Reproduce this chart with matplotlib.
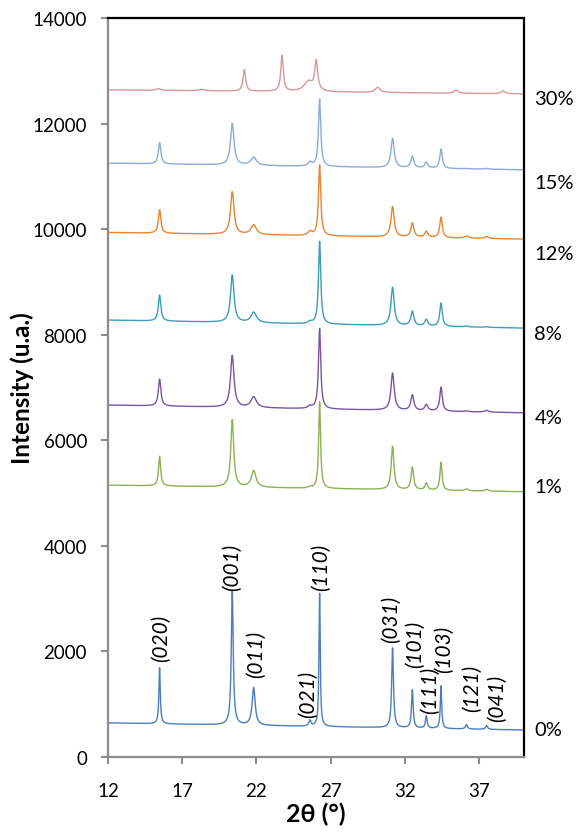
import numpy as np
import matplotlib
matplotlib.use("Agg")
import matplotlib.pyplot as plt
import matplotlib.transforms as mtransforms

plt.rcParams['font.family'] = ['Lato', 'DejaVu Sans']

# peak positions (2theta) of the main phase, shared by 0-15 %
PEAK_POS = [15.48, 20.37, 21.81, 25.6, 26.25, 31.16, 32.49, 33.43, 34.42, 36.13, 37.49]
PEAK_HWHM = [0.10, 0.14, 0.22, 0.15, 0.09, 0.13, 0.12, 0.12, 0.10, 0.15, 0.15]

# apex intensities for every sample
TOP_0 = [1690, 3150, 1310, 690, 3100, 2065, 1270, 775, 1345, 612, 593]
TOP_1 = [5695, 6383, 5422, 5110, 6730, 5884, 5487, 5184, 5581, 5076, 5070]
TOP_4 = [7160, 7605, 6818, 6640, 8115, 7273, 6856, 6672, 7002, 6553, 6565]
TOP_8 = [8750, 9129, 8422, 8240, 9767, 8895, 8441, 8282, 8598, 8163, 8150]
TOP_12 = [10366, 10707, 10076, 9950, 11212, 10429, 10114, 9956, 10227, 9867, 9860]
TOP_15 = [11642, 12001, 11358, 11265, 12462, 11717, 11377, 11263, 11515, 11150, 11150]

# 30 % shows another set of reflections
POS_30 = [15.4, 18.3, 21.18, 23.72, 25.5, 26.02, 30.16, 35.43, 38.6]
HWHM_30 = [0.2, 0.2, 0.1, 0.1, 0.35, 0.12, 0.2, 0.15, 0.15]
TOP_30 = [12660, 12650, 13020, 13282, 12790, 13153, 12684, 12638, 12620]

# background at 12 and 40 degrees
BASE_START = [645, 5150, 6667, 8277, 9937, 11250, 12638]
BASE_END = [511, 5025, 6520, 8125, 9811, 11124, 12562]
WIDTH_SCALE = [0.55, 0.85, 1.0, 1.0, 1.0, 1.0, 1.0]

SAMPLES = ['0%', '1%', '4%', '8%', '12%', '15%', '30%']
COLORS = ['#4a7ebb', '#8db054', '#7457a3', '#3c9db8', '#e8842f', '#8eaad9', '#d69797']
LABEL_Y = [530, 5130, 6440, 8030, 9545, 10890, 12480]

HKL = ['(020)', '(001)', '(011)', '(021)', '(110)', '(031)', '(101)', '(111)', '(103)', '(121)', '(041)']
HKL_X = [15.6, 20.32, 22.0, 25.5, 26.36, 31.07, 32.64, 33.7, 34.6, 36.5, 38.2]
HKL_Y = [1820, 3170, 1520, 760, 3160, 2180, 1700, 830, 1610, 870, 680]

two_theta = np.arange(12.0, 40.0001, 0.01)


def pattern(i, pos, hwhm, tops):
    b0, b1 = BASE_START[i], BASE_END[i]
    base = b0 + (b1 - b0) * (two_theta - 12.0) / 28.0
    y = base.copy()
    for c, w, t in zip(pos, hwhm, tops):
        h = t - (b0 + (b1 - b0) * (c - 12.0) / 28.0)
        w = w * WIDTH_SCALE[i]
        y += h / (1.0 + ((two_theta - c) / w) ** 2)
    return y


fig = plt.figure(figsize=(5.77, 8.37), dpi=100)
ax = fig.add_axes([0.187, 0.0944, 0.721, 0.8829])

tops = [TOP_0, TOP_1, TOP_4, TOP_8, TOP_12, TOP_15]
curves = [pattern(i, PEAK_POS, PEAK_HWHM, t) for i, t in enumerate(tops)]
curves.append(pattern(6, POS_30, HWHM_30, TOP_30))

for y, c in zip(curves, COLORS):
    ax.plot(two_theta, y, color=c, lw=1.0)

trans = mtransforms.blended_transform_factory(ax.transAxes, ax.transData)
for name, ly in zip(SAMPLES, LABEL_Y):
    ax.text(1.025, ly, name, transform=trans, fontsize=14.5,
            ha='left', va='center', clip_on=False)

for lab, x, y in zip(HKL, HKL_X, HKL_Y):
    ax.text(x, y, lab, rotation=90, fontsize=15, style='italic',
            ha='center', va='bottom')

ax.set_xlim(12, 40)
ax.set_ylim(0, 14000)
ax.set_xticks([12, 17, 22, 27, 32, 37])
ax.set_yticks(np.arange(0, 14001, 2000))

for s in ['left', 'bottom']:
    ax.spines[s].set_color('#8c8c8c')
    ax.spines[s].set_linewidth(1.6)
for s in ['top', 'right']:
    ax.spines[s].set_color('black')
    ax.spines[s].set_linewidth(1.6)
ax.tick_params(axis='both', direction='out', length=5, width=1.5,
               color='#8c8c8c', labelsize=13.5)
ax.tick_params(axis='x', pad=13)
ax.tick_params(axis='y', pad=10)

ax.set_xlabel('2θ (°)', fontsize=18, fontweight='bold', labelpad=2)
ax.set_ylabel('Intensity (u.a.)', fontsize=17.5, fontweight='bold', labelpad=-1)

fig.savefig('out.png', dpi=100)
